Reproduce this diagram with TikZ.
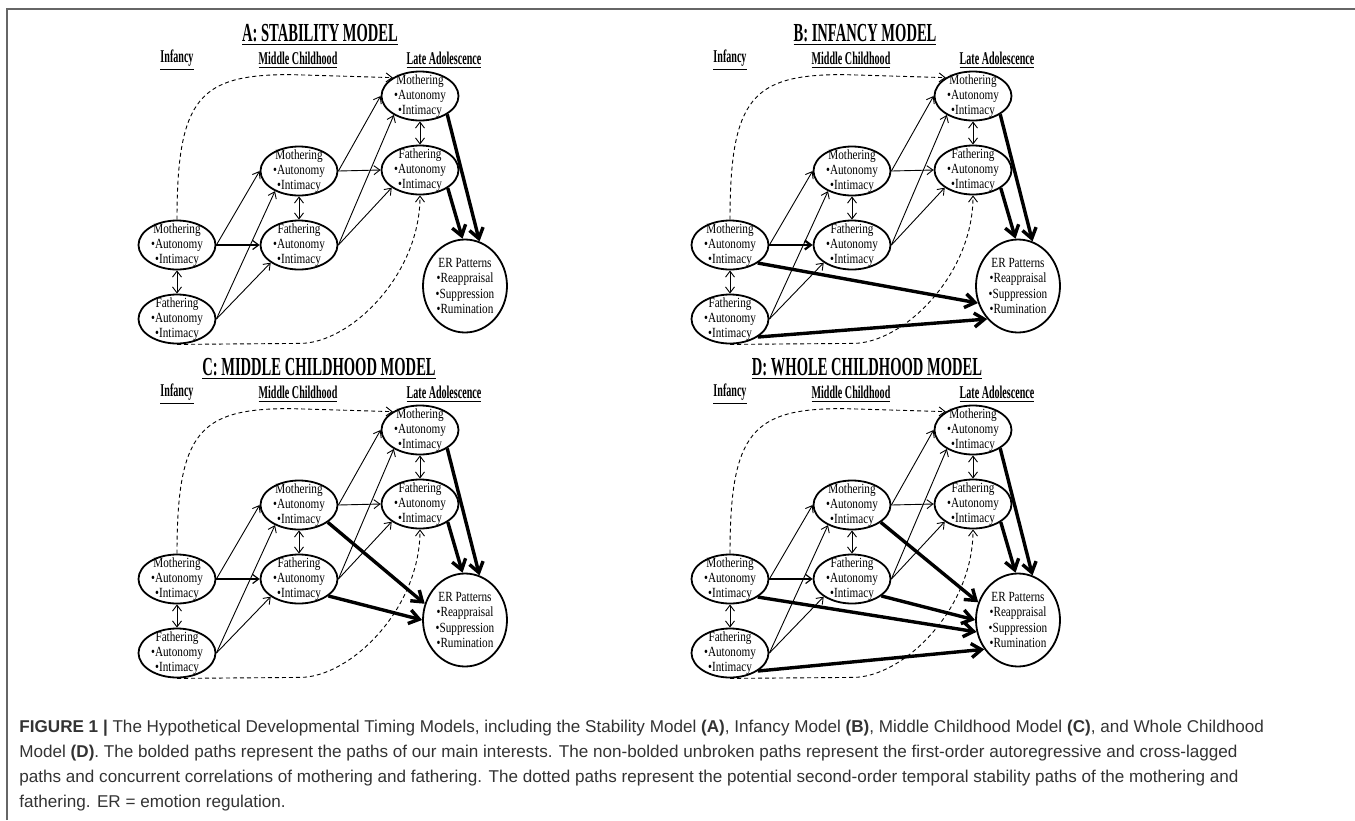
\documentclass[tikz,border=0pt]{standalone}
\usepackage{fontspec}
\setmainfont{Liberation Serif}
\newfontfamily\titlefont[FakeStretch=0.56]{Liberation Serif}
\newfontfamily\nodefont[FakeStretch=0.8]{Liberation Serif}
\newfontfamily\capfont{Liberation Sans}
\usetikzlibrary{shapes.geometric,arrows.meta}
\tikzset{
  var/.style={ellipse,draw,line width=0.9pt,inner sep=-12pt,minimum width=38.5pt,minimum height=24.5pt,align=center,font={\fontsize{7pt}{7.6pt}\nodefont\selectfont}},
  outcome/.style={var,minimum width=42pt,minimum height=46.5pt},
  lag/.style={line width=0.45pt,-{Straight Barb[length=3pt,width=4.5pt]}},
  corr/.style={line width=0.45pt,{Straight Barb[length=3pt,width=4.5pt]}-{Straight Barb[length=3pt,width=4.5pt]}},
  stab/.style={line width=0.45pt,dash pattern=on 2pt off 1.5pt,-{Straight Barb[length=3pt,width=4.5pt]}},
  main/.style={line width=1.7pt,-{Straight Barb[length=5pt,width=7pt]}},
  ttl/.style={font={\fontsize{13pt}{14pt}\titlefont\bfseries\selectfont}},
  wave/.style={font={\fontsize{9pt}{10pt}\titlefont\bfseries\selectfont}},
}
\begin{document}
\begin{tikzpicture}[x=0.5pt,y=-0.5pt]
\useasboundingbox (0,0) rectangle (1355,820);
\draw[black!60,line width=0.8pt] (7,820) -- (7,9) -- (1355,9); % frame
\foreach \p/\dx/\dy/\tx/\ttl/\w in {a/0/0/320/A: STABILITY MODEL/0.6,b/553/0/312/B: INFANCY MODEL/1.1,c/0/334/319/C: MIDDLE CHILDHOOD MODEL/0.6,d/553/334/314/D: WHOLE CHILDHOOD MODEL/0.6} % edit here for the panels
{
\begin{scope}[shift={(\dx,\dy)}]
\node[ttl] (\p-title) at (\tx,35) {\underline{\ttl}};
\node[wave] (\p-inf) at (177,60) {\underline{Infancy}};
\node[wave] (\p-mid) at (298,60) {\underline{Middle Childhood}};
\node[wave] (\p-late) at (444,60) {\underline{Late Adolescence}};
\node[var] (\p-infM) at (177,245) {Mothering\\•Autonomy\\•Intimacy};
\node[var] (\p-infF) at (177,319) {Fathering\\•Autonomy\\•Intimacy};
\node[var] (\p-midM) at (299,171) {Mothering\\•Autonomy\\•Intimacy};
\node[var] (\p-midF) at (299,245) {Fathering\\•Autonomy\\•Intimacy};
\node[var] (\p-lateM) at (420,96) {Mothering\\•Autonomy\\•Intimacy};
\node[var] (\p-lateF) at (420,170) {Fathering\\•Autonomy\\•Intimacy};
\node[outcome] (\p-er) at (465,286) {ER Patterns\\•Reappraisal\\•Suppression\\•Rumination};
% first-order paths
\draw[lag] (\p-infM.east) -- (\p-midM.west);
\draw[lag,line width=\w pt] (\p-infM.east) -- (\p-midF.west);
\draw[lag] (\p-infF.east) -- (\p-midM.220);
\draw[lag] (\p-infF.east) -- (\p-midF.212);
\draw[lag] (\p-midM.east) -- (\p-lateM.west);
\draw[lag] (\p-midM.east) -- (\p-lateF.west);
\draw[lag] (\p-midF.east) -- (\p-lateM.216);
\draw[lag] (\p-midF.east) -- (\p-lateF.212);
\draw[corr] (\p-infM.south) -- (\p-infF.north);
\draw[corr] (\p-midM.south) -- (\p-midF.north);
\draw[corr] (\p-lateM.south) -- (\p-lateF.north);
% second-order paths
\draw[stab] (\p-infM.north) .. controls +(0,-122) and +(-90,0) .. +(113,-145) -- (\p-lateM.146);
\draw[stab] (\p-infF.south) -- +(123,-1) .. controls +(50,0) and +(0,80) .. (\p-lateF.south);
% late adolescence to ER
\draw[main] (\p-lateM.326) -- (\p-er.72);
\draw[main] (\p-lateF.327) -- (\p-er.93);
\end{scope}
}
% infancy to ER
\draw[main] (b-infM.327) -- (b-er.203);
\draw[main] (b-infF.327) -- (b-er.227);
% middle childhood to ER
\draw[main] (c-midM.329) -- (c-er.158);
\draw[main] (c-midF.330) -- (c-er.west);
% whole childhood to ER
\draw[main] (d-midM.329) -- (d-er.156);
\draw[main] (d-midF.330) -- (d-er.180);
\draw[main] (d-infM.327) -- (d-er.196);
\draw[main] (d-infF.327) -- (d-er.221);
\node[anchor=north west,inner sep=0pt,text=black!80] (caption) at (19,720) {\parbox[t]{660pt}{\raggedright\capfont\fontsize{8.55pt}{12.4pt}\selectfont\textbf{FIGURE 1 |} The Hypothetical Developmental Timing Models, including the Stability Model \textbf{(A)}, Infancy Model \textbf{(B)}, Middle Childhood Model \textbf{(C)}, and Whole Childhood\\Model \textbf{(D)}. The bolded paths represent the paths of our main interests. The non-bolded unbroken paths represent the first-order autoregressive and cross-lagged\\paths and concurrent correlations of mothering and fathering. The dotted paths represent the potential second-order temporal stability paths of the mothering and\\fathering. ER = emotion regulation.}};
\end{tikzpicture}
\end{document}
